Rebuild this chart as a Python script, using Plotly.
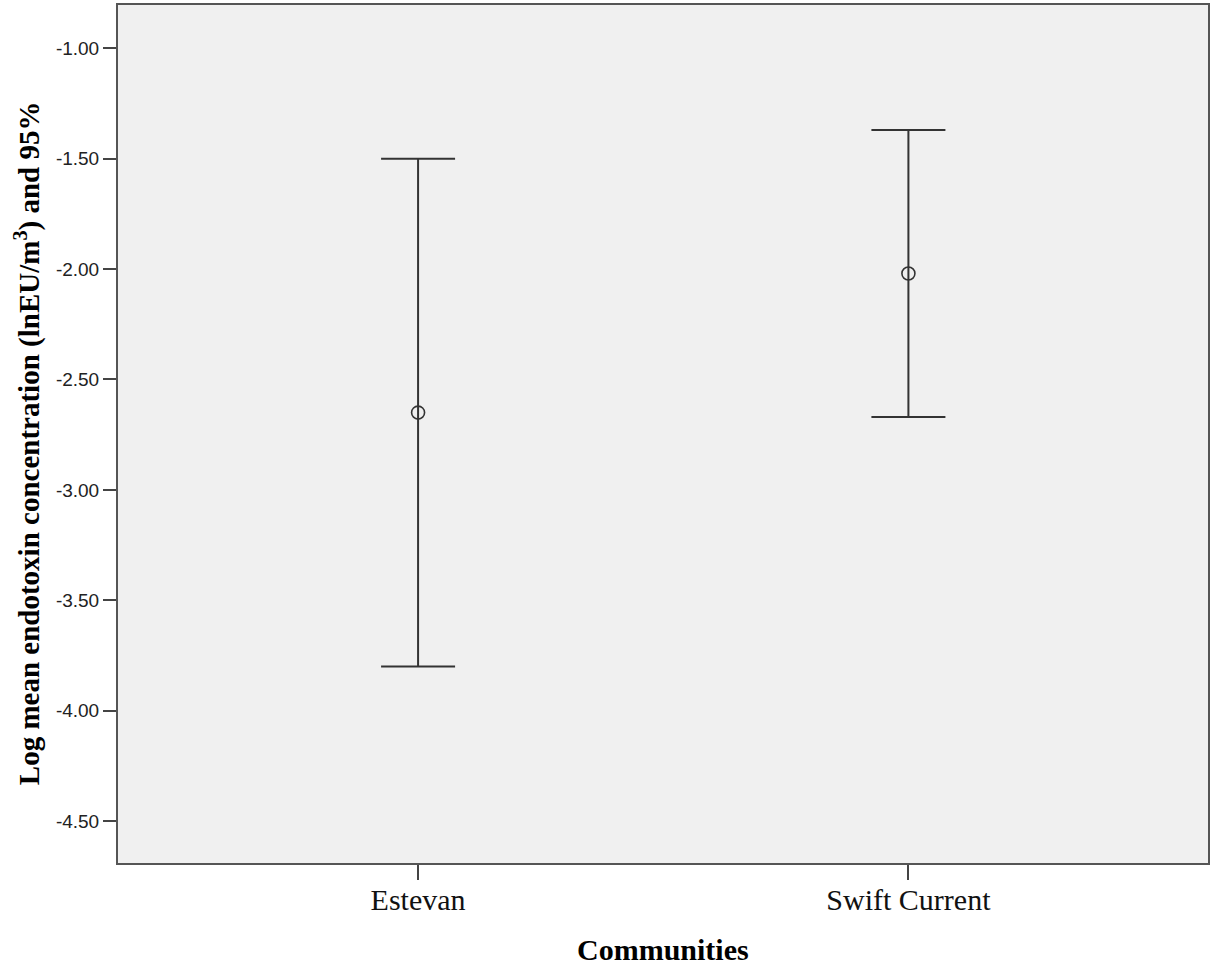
import plotly.graph_objects as go

communities = ["Estevan", "Swift Current"]
means = [-2.65, -2.02]
ci_lower = [-3.80, -2.67]
ci_upper = [-1.50, -1.37]
y_ticks = [-1.00, -1.50, -2.00, -2.50, -3.00, -3.50, -4.00, -4.50]

err_plus = [u - m for u, m in zip(ci_upper, means)]
err_minus = [m - l for m, l in zip(means, ci_lower)]
xpos = list(range(len(communities)))

fig = go.Figure()
fig.add_trace(go.Scatter(
    x=xpos, y=means, mode="markers",
    marker=dict(symbol="circle-open", size=13, color="#333333", line=dict(width=1.6, color="#333333")),
    error_y=dict(type="data", symmetric=False, array=err_plus, arrayminus=err_minus,
                 color="#333333", thickness=2, width=37),
    showlegend=False,
))

fig.update_layout(
    width=1212, height=968,
    margin=dict(l=118, r=2, t=5, b=105),
    paper_bgcolor="white", plot_bgcolor="#f0f0f0",
    xaxis=dict(
        range=[-0.612, 1.611], tickmode="array", tickvals=xpos, ticktext=communities,
        showgrid=False, zeroline=False, showline=True, mirror=True,
        linecolor="#555555", linewidth=2,
        ticks="outside", ticklen=15, tickwidth=2, tickcolor="#444444",
        ticklabelstandoff=-6,
        tickfont=dict(family="Liberation Serif", size=30, color="#111111"),
    ),
    yaxis=dict(
        range=[-4.69, -0.804], tickmode="array", tickvals=y_ticks,
        ticktext=[f"{v:.2f}" for v in y_ticks],
        showgrid=False, zeroline=False, showline=True, mirror=True,
        linecolor="#555555", linewidth=2,
        ticks="outside", ticklen=13, tickwidth=2, tickcolor="#444444",
        tickfont=dict(family="Liberation Sans", size=19, color="#222222"),
    ),
    annotations=[
        dict(text="<b>Log mean endotoxin concentration (lnEU/m<sup>3</sup>) and 95%</b>",
             xref="paper", yref="paper", x=(28 - 118) / 1092, y=(863 - 443) / 858,
             xanchor="center", yanchor="middle", textangle=-90, showarrow=False,
             font=dict(family="Liberation Serif", size=29, color="#000000")),
        dict(text="<b>Communities</b>",
             xref="paper", yref="paper", x=(664 - 118) / 1092, y=(863 - 949) / 858,
             xanchor="center", yanchor="middle", showarrow=False,
             font=dict(family="Liberation Serif", size=30, color="#000000")),
    ],
)

fig.write_html("out.html", config={"displayModeBar": False},
               post_script="document.body.style.margin='0';")
